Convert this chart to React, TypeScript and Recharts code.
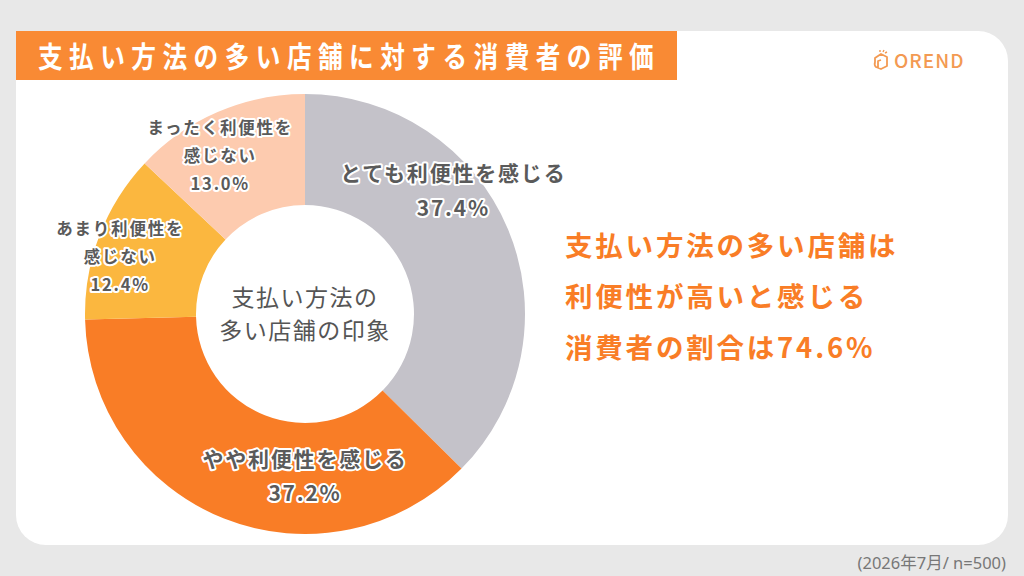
import { PieChart, Pie, Cell } from "recharts";

// Survey answers, clockwise from 12 o'clock
const categories = [
  "とても利便性を感じる",
  "やや利便性を感じる",
  "あまり利便性を感じない",
  "まったく利便性を感じない",
];
const shares = [37.4, 37.2, 12.4, 13.0];
// how each label is broken into lines
const labelLines = [
  ["とても利便性を感じる"],
  ["やや利便性を感じる"],
  ["あまり利便性を", "感じない"],
  ["まったく利便性を", "感じない"],
];
const colors = ["#c4c2c9", "#f97d26", "#fbb73f", "#fdcbaf"];

// label placement: polar angle (deg) and radius as a fraction of outer radius
const labelAngle = [40, -90, 162.6, 118];
const labelRadius = [0.88, 0.73, 0.88, 0.82];
const labelFont = [21, 21, 16.5, 16.5];
const labelGap = [35, 34, 28, 28];

const data = categories.map((name, i) => ({ name, value: shares[i] }));

const FONT = '"Noto Sans CJK JP", "Noto Sans", sans-serif';
const ORANGE = "#f97d26";

const RADIAN = Math.PI / 180;

const renderLabel = (props: any) => {
  const { cx, cy, outerRadius, index } = props;
  const r = outerRadius * labelRadius[index];
  const x = cx + r * Math.cos(labelAngle[index] * RADIAN);
  const y = cy - r * Math.sin(labelAngle[index] * RADIAN);
  const lines = [...labelLines[index], `${shares[index].toFixed(1)}%`];
  const gap = labelGap[index];
  const top = y - ((lines.length - 1) * gap) / 2;
  return (
    <text
      x={x}
      y={top}
      textAnchor="middle"
      dominantBaseline="central"
      fill="#5a5a5a"
      stroke="#ffffff"
      strokeWidth={4}
      strokeLinejoin="round"
      paintOrder="stroke"
      fontFamily={FONT}
      fontWeight={700}
      fontSize={labelFont[index]}
      letterSpacing={1.8}
    >
      {lines.map((line, i) => (
        <tspan key={i} x={x} dy={i === 0 ? 0 : gap}>
          {line}
        </tspan>
      ))}
    </text>
  );
};

export default function App() {
  return (
    <div
      style={{
        position: "fixed",
        left: 0,
        top: 0,
        width: 1024,
        height: 576,
        background: "#e8e8e8",
        fontFamily: FONT,
        overflow: "hidden",
      }}
    >
      {/* white card */}
      <div
        style={{
          position: "absolute",
          left: 16,
          top: 31,
          width: 992,
          height: 514,
          background: "#ffffff",
          borderRadius: 30,
        }}
      />
      {/* title band */}
      <div
        style={{
          position: "absolute",
          left: 16,
          top: 31,
          width: 661,
          height: 49,
          background: "#f98a34",
          overflow: "hidden",
        }}
      >
        <div
          style={{
            position: "absolute",
            left: 22,
            top: 0,
            color: "#ffffff",
            fontWeight: 700,
            fontSize: 29,
            letterSpacing: 7.6,
            lineHeight: "49px",
            whiteSpace: "nowrap",
            transform: "scaleX(0.85)",
            transformOrigin: "left center",
          }}
        >
          支払い方法の多い店舗に対する消費者の評価
        </div>
      </div>
      {/* logo */}
      <div
        style={{
          position: "absolute",
          left: 872,
          top: 46,
          display: "flex",
          alignItems: "center",
          gap: 4,
          color: "#f39a52",
          fontWeight: 500,
          fontSize: 19,
          letterSpacing: 1,
        }}
      >
        <svg width="18" height="22" viewBox="0 0 18 22">
          <path
            d="M3 9 L9 5 L15 8 L15 17 L9 20 L4 18 Q2 16 3 13 Z M6 19 L6 12 L9 11"
            fill="none"
            stroke="#f39a52"
            strokeWidth="1.8"
            strokeLinejoin="round"
          />
          <path d="M8 3 L8 1 M11 3 L12 1 M13 4 L15 3" stroke="#f39a52" strokeWidth="1.4" />
        </svg>
        <span>OREND</span>
      </div>

      <div style={{ position: "absolute", left: 0, top: 0 }}>
        <PieChart width={1024} height={576} margin={{ top: 0, right: 0, bottom: 0, left: 0 }}>
          <Pie
            data={data}
            dataKey="value"
            nameKey="name"
            cx={305}
            cy={314}
            innerRadius={109}
            outerRadius={220}
            startAngle={90}
            endAngle={-270}
            stroke="none"
            label={renderLabel}
            labelLine={false}
            isAnimationActive={false}
          >
            {data.map((d, i) => (
              <Cell key={d.name} fill={colors[i]} />
            ))}
          </Pie>
        </PieChart>
      </div>

      {/* donut centre text */}
      <div
        style={{
          position: "absolute",
          left: 195,
          top: 280,
          width: 220,
          textAlign: "center",
          color: "#555555",
          fontSize: 23,
          lineHeight: "33px",
          letterSpacing: 1.5,
        }}
      >
        支払い方法の
        <br />
        多い店舗の印象
      </div>

      {/* headline */}
      <div
        style={{
          position: "absolute",
          left: 565,
          top: 219,
          color: ORANGE,
          fontWeight: 700,
          fontSize: 27.5,
          lineHeight: "51px",
          letterSpacing: 2.8,
          whiteSpace: "nowrap",
        }}
      >
        支払い方法の多い店舗は
        <br />
        利便性が高いと感じる
        <br />
        消費者の割合は74.6%
      </div>

      {/* footnote */}
      <div
        style={{
          position: "absolute",
          right: 18,
          top: 550,
          color: "#777777",
          fontSize: 16.5,
          fontFamily: '"Noto Sans", "Noto Sans CJK JP", sans-serif',
        }}
      >
        (2026年7月/ n=500)
      </div>
    </div>
  );
}
